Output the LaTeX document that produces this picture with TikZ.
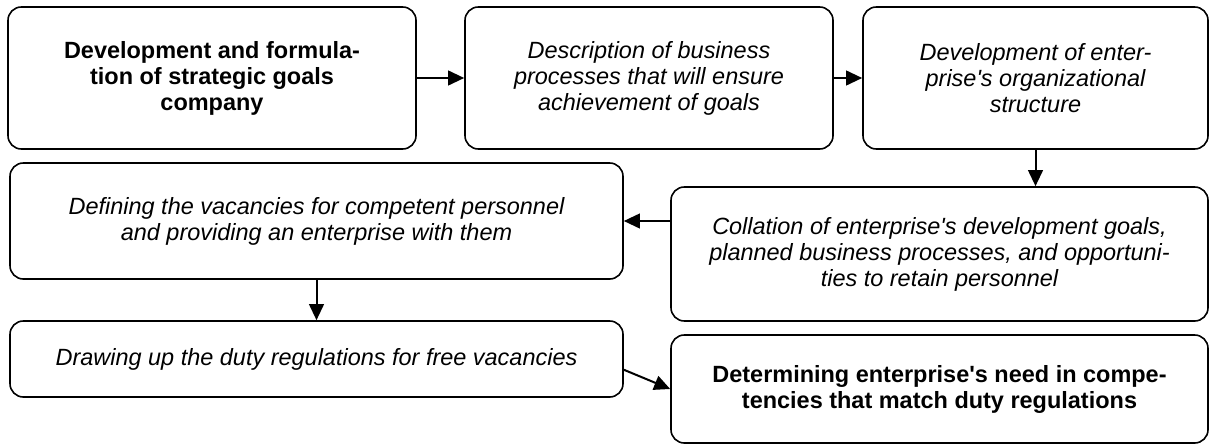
\documentclass[tikz,border=0pt]{standalone}
\usepackage{fontspec}
\setmainfont{Liberation Sans}
\usepackage{tikz}
\usetikzlibrary{arrows.meta}

\begin{document}
\begin{tikzpicture}[x=0.75pt,y=-0.75pt]
            \tikzstyle{every node}=[draw,fill=white,line width=1.2pt,rounded corners=10pt,align=center,inner sep=0pt,font=\fontsize{17.6}{19.5}\selectfont\itshape]
            \tikzstyle{main}=[font=\fontsize{17.6}{19.5}\selectfont\bfseries]
            \tikzstyle{link}=[line width=1.5pt,-{Triangle[length=12pt,width=11pt]}]
            \useasboundingbox (0,0) rectangle (1212,446);
            % top row
            \node[main,minimum width=306pt,minimum height=106.5pt] (goals) at (212,78)
                {Development and formula-\\tion of strategic goals\\company};
            \node[minimum width=276pt,minimum height=106.5pt] (processes) at (649,78)
                {Description of business\\processes that will ensure\\achievement of goals};
            \node[minimum width=258.75pt,minimum height=106.5pt] (structure) at (1035.5,78)
                {Development of enter-\\prise\textquotesingle s organizational\\structure};
            % middle row
            \node[minimum width=459.75pt,minimum height=87pt] (vacancies) at (316.5,221)
                {Defining the vacancies for competent personnel\\and providing an enterprise with them};
            \node[minimum width=402.75pt,minimum height=100.5pt] (collation) at (939.5,254)
                {Collation of enterprise\textquotesingle s development goals,\\planned business processes, and opportuni-\\ties to retain personnel};
            % bottom row
            \node[minimum width=459.75pt,minimum height=57pt] (duty) at (316.5,359)
                {Drawing up the duty regulations for free vacancies};
            \node[main,minimum width=402.75pt,minimum height=81pt] (need) at (939.5,389)
                {Determining enterprise\textquotesingle s need in compe-\\tencies that match duty regulations};
            % arrows
            \draw[link] (goals) -- (processes);
            \draw[link] (processes) -- (structure);
            \draw[link] (structure.south) -- (structure.south |- collation.north);
            \draw[link] (collation.west |- vacancies.east) -- (vacancies.east);
            \draw[link] (vacancies.south) -- (duty.north);
            \draw[link] (duty.-2) -- (need.west);
\end{tikzpicture}
\end{document}
